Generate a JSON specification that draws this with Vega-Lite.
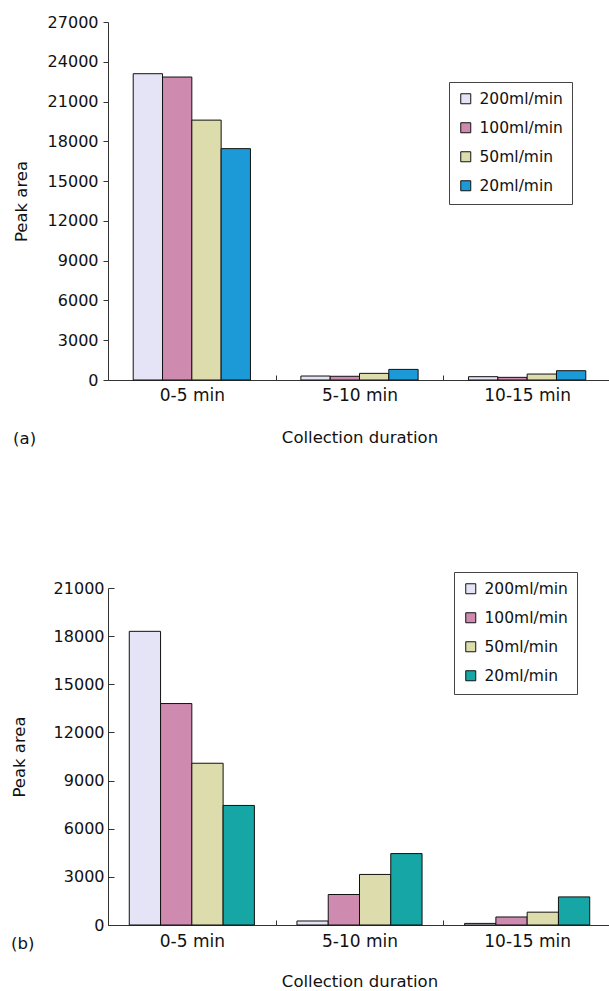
{
  "$schema": "https://vega.github.io/schema/vega-lite/v6.json",
  "padding": {"left": 11, "top": 14, "right": 0, "bottom": 0},
  "background": "white",
  "config": {
    "font": "DejaVu Sans",
    "view": {"stroke": null},
    "axis": {"labelFont": "DejaVu Sans", "titleFont": "DejaVu Sans", "labelColor": "#111", "titleColor": "#111", "domainColor": "#333", "tickColor": "#333", "labelFontSize": 16, "titleFontSize": 16.5, "titleFontWeight": "normal", "grid": false},
    "axisX": {"labelFontSize": 17},
    "legend": {"labelFont": "DejaVu Sans", "labelFontSize": 15.5, "labelColor": "#111"},
    "title": {"font": "DejaVu Sans", "fontSize": 16.5, "fontWeight": "normal", "color": "#111"}
  },
  "datasets": {
    "a": [
      {"duration": "0-5 min", "rate": "200ml/min", "value": 23100},
      {"duration": "0-5 min", "rate": "100ml/min", "value": 22850},
      {"duration": "0-5 min", "rate": "50ml/min", "value": 19600},
      {"duration": "0-5 min", "rate": "20ml/min", "value": 17450},
      {"duration": "5-10 min", "rate": "200ml/min", "value": 300},
      {"duration": "5-10 min", "rate": "100ml/min", "value": 280},
      {"duration": "5-10 min", "rate": "50ml/min", "value": 500},
      {"duration": "5-10 min", "rate": "20ml/min", "value": 800},
      {"duration": "10-15 min", "rate": "200ml/min", "value": 250},
      {"duration": "10-15 min", "rate": "100ml/min", "value": 200},
      {"duration": "10-15 min", "rate": "50ml/min", "value": 450},
      {"duration": "10-15 min", "rate": "20ml/min", "value": 700}
    ],
    "b": [
      {"duration": "0-5 min", "rate": "200ml/min", "value": 18300},
      {"duration": "0-5 min", "rate": "100ml/min", "value": 13800},
      {"duration": "0-5 min", "rate": "50ml/min", "value": 10080},
      {"duration": "0-5 min", "rate": "20ml/min", "value": 7450},
      {"duration": "5-10 min", "rate": "200ml/min", "value": 250},
      {"duration": "5-10 min", "rate": "100ml/min", "value": 1900},
      {"duration": "5-10 min", "rate": "50ml/min", "value": 3150},
      {"duration": "5-10 min", "rate": "20ml/min", "value": 4450},
      {"duration": "10-15 min", "rate": "200ml/min", "value": 100},
      {"duration": "10-15 min", "rate": "100ml/min", "value": 500},
      {"duration": "10-15 min", "rate": "50ml/min", "value": 800},
      {"duration": "10-15 min", "rate": "20ml/min", "value": 1750}
    ]
  },
  "vconcat": [
    {
      "data": {"name": "a"},
      "width": 503,
      "height": 358,
      "title": {"text": "(a)", "orient": "bottom", "anchor": "start", "frame": "bounds", "offset": 0, "dy": -15},
      "mark": {"type": "bar", "stroke": "#111", "strokeWidth": 1},
      "encoding": {
        "x": {"field": "duration", "type": "nominal", "sort": ["0-5 min", "5-10 min", "10-15 min"],
              "scale": {"paddingInner": 0, "paddingOuter": 0},
              "axis": {"title": "Collection duration", "labelAngle": 0, "tickBand": "extent", "tickSize": -5, "labelPadding": 12, "titlePadding": 26}},
        "xOffset": {"field": "rate", "type": "nominal", "sort": ["200ml/min", "100ml/min", "50ml/min", "20ml/min"],
                    "scale": {"paddingInner": 0, "paddingOuter": 0.86}},
        "y": {"field": "value", "type": "quantitative",
              "scale": {"domain": [0, 27000], "nice": false},
              "axis": {"title": "Peak area", "values": [0, 3000, 6000, 9000, 12000, 15000, 18000, 21000, 24000, 27000], "format": "d", "tickSize": 5, "labelPadding": 5, "titlePadding": 18}},
        "color": {"field": "rate", "type": "nominal",
                  "scale": {"domain": ["200ml/min", "100ml/min", "50ml/min", "20ml/min"], "range": ["#e4e4f6", "#cf8ab0", "#dcdcac", "#1c9ad8"]},
                  "legend": {"title": null, "orient": "none", "legendX": 341, "legendY": 60, "symbolType": "square", "symbolSize": 100, "symbolStrokeColor": "#111", "symbolStrokeWidth": 1, "strokeColor": "#444", "fillColor": "white", "padding": 9, "rowPadding": 12, "labelOffset": 6}}
      }
    },
    {
      "data": {"name": "b"},
      "width": 503,
      "height": 337,
      "title": {"text": "(b)", "orient": "bottom", "anchor": "start", "frame": "bounds", "offset": 0, "dy": -54},
      "mark": {"type": "bar", "stroke": "#111", "strokeWidth": 1},
      "encoding": {
        "x": {"field": "duration", "type": "nominal", "sort": ["0-5 min", "5-10 min", "10-15 min"],
              "scale": {"paddingInner": 0, "paddingOuter": 0},
              "axis": {"title": "Collection duration", "labelAngle": 0, "tickBand": "extent", "tickSize": -5, "labelPadding": 13, "titlePadding": 24}},
        "xOffset": {"field": "rate", "type": "nominal", "sort": ["200ml/min", "100ml/min", "50ml/min", "20ml/min"],
                    "scale": {"paddingInner": 0, "paddingOuter": 0.68}},
        "y": {"field": "value", "type": "quantitative",
              "scale": {"domain": [0, 21000], "nice": false},
              "axis": {"title": "Peak area", "values": [0, 3000, 6000, 9000, 12000, 15000, 18000, 21000], "format": "d", "tickSize": -6, "labelPadding": 10, "titlePadding": 26}},
        "color": {"field": "rate", "type": "nominal",
                  "scale": {"domain": ["200ml/min", "100ml/min", "50ml/min", "20ml/min"], "range": ["#e4e4f6", "#cf8ab0", "#dcdcac", "#17a6a6"]},
                  "legend": {"title": null, "orient": "none", "legendX": 346, "legendY": -16, "symbolType": "square", "symbolSize": 100, "symbolStrokeColor": "#111", "symbolStrokeWidth": 1, "strokeColor": "#444", "fillColor": "white", "padding": 9, "rowPadding": 12, "labelOffset": 6}}
      }
    }
  ],
  "resolve": {"scale": {"color": "independent", "x": "independent", "y": "independent", "xOffset": "independent"}, "legend": {"color": "independent"}},
  "spacing": 124
}
